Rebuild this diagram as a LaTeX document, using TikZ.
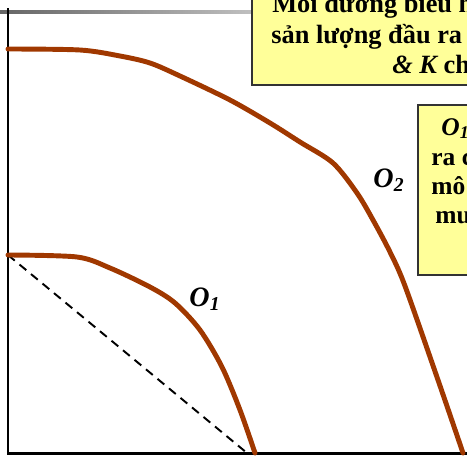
\documentclass[tikz,border=0pt]{standalone}
\usepackage{fontspec}
\setmainfont{Liberation Serif}
\usetikzlibrary{positioning}
\definecolor{curvebrown}{RGB}{160,56,0}
\definecolor{noteyellow}{RGB}{255,255,153}

\begin{document}
\begin{tikzpicture}[
    x=0.02cm, y=-0.02cm,
    axis/.style={line width=1.7pt, black},
    isoquant/.style={line width=2.8pt, curvebrown, line cap=round, line join=round},
    note/.style={draw=black!80, fill=noteyellow, line width=0.7pt},
    notetext/.style={font=\fontsize{15}{17}\selectfont\bfseries, anchor=base west, inner sep=0pt},
    smalltext/.style={font=\fontsize{14.5}{16}\selectfont\bfseries, anchor=base west, inner sep=0pt},
    curvelabel/.style={font=\fontsize{16}{18}\selectfont\bfseries\itshape, inner sep=0pt}
]
    \useasboundingbox (0,0) rectangle (467,457);
    \clip (0,0) rectangle (467,457);

    % rule at the top
    \shade[left color=black!60, right color=black!25] (0,10.5) rectangle (252,13.5);

    % axes
    \coordinate (origin) at (8,453);
    \coordinate (ytop) at (8,8);
    \coordinate (xend) at (470,453);
    \draw[axis] (ytop) -- (origin) -- (xend);

    % notes
    \draw[note] (252,-10) rectangle (480,85);
    \node[notetext] (n1) at (272,12) {Mỗi đường biểu h};
    \node[notetext] (n2) at (271,43) {sản lượng đầu ra};
    \node[notetext] (n3) at (392,73) {\itshape\&\ K\upshape\ ch};

    \draw[note] (418,105) rectangle (480,275);
    \node[smalltext] (m1) at (441,135) {\itshape O\textsubscript{1}};
    \node[smalltext] (m2) at (431,165) {ra c};
    \node[smalltext] (m3) at (431,194) {mô};
    \node[smalltext] (m4) at (435,223) {mu};

    % isoquants
    \coordinate (o1start) at (8,255);
    \coordinate (o1end) at (247,453);
    \draw[dashed, line width=1.1pt, dash pattern=on 5pt off 3.5pt] (o1start) -- (o1end);

    \draw[isoquant] plot[smooth, tension=0.5] coordinates {(8,49) (80,50) (120,56) (150,63) (180,76) (230,100) (270,123) (300,142) (333,163) (357,193) (373,220) (390,252) (405,286) (438,380) (463,453)};
    \draw[isoquant] plot[smooth, tension=0.5] coordinates {(8,255) (77,257) (110,268) (150,287) (175,303) (200,330) (222,367) (240,410) (255,453)};

    \node[curvelabel] (lab2) at (389,180) {O\textsubscript{2}};
    \node[curvelabel] (lab1) at (205,299) {O\textsubscript{1}};
\end{tikzpicture}
\end{document}
